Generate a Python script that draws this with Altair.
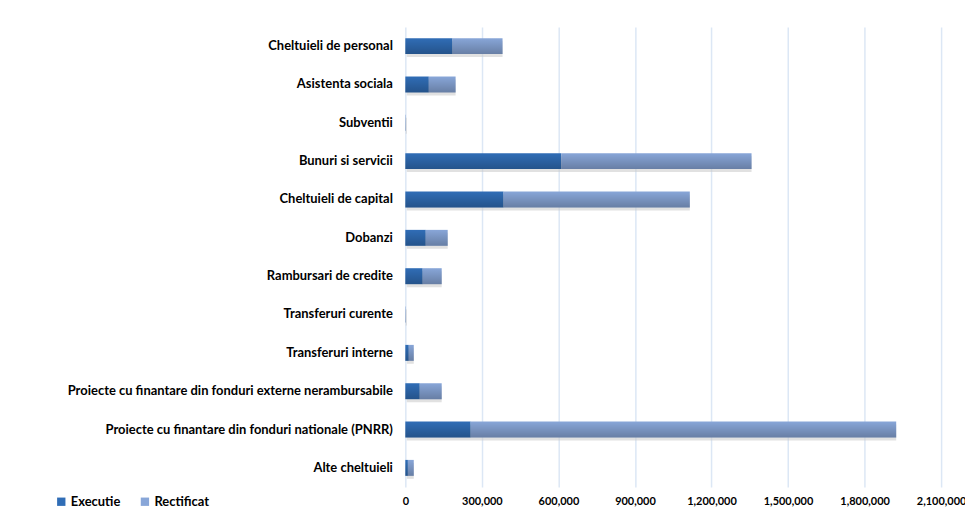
import altair as alt
import pandas as pd

categories = [
    "Cheltuieli de personal",
    "Asistenta sociala",
    "Subventii",
    "Bunuri si servicii",
    "Cheltuieli de capital",
    "Dobanzi",
    "Rambursari de credite",
    "Transferuri curente",
    "Transferuri interne",
    "Proiecte cu finantare din fonduri externe nerambursabile",
    "Proiecte cu finantare din fonduri nationale (PNRR)",
    "Alte cheltuieli",
]
executie = [185000, 92000, 500, 611000, 385000, 80000, 68000, 500, 13500, 56500, 256000, 10000]
rectificat = [196000, 105000, 1000, 746000, 730000, 86000, 74500, 1000, 19500, 86000, 1668000, 23000]
series_names = ["Executie", "Rectificat"]
series_colors = ["#306db6", "#88a6d8"]
x_ticks = [0, 300000, 600000, 900000, 1200000, 1500000, 1800000, 2100000]

rows = []
for c, e, r in zip(categories, executie, rectificat):
    rows.append({"cat": c, "series": "Executie", "start": 0, "end": e})
    rows.append({"cat": c, "series": "Rectificat", "start": e, "end": e + r})
df = pd.DataFrame(rows)
tot = pd.DataFrame({"cat": categories, "start": [0] * len(categories),
                    "end": [e + r for e, r in zip(executie, rectificat)]})

FONT = "Lato"
xscale = alt.Scale(domain=[0, 2100000], nice=False)
yenc = alt.Y("cat:N", sort=categories, title=None,
             scale=alt.Scale(paddingInner=0.58, paddingOuter=0.29),
             axis=alt.Axis(labelFont=FONT, labelFontWeight="bold", labelFontSize=13,
                           labelColor="#000000", labelLimit=500, labelPadding=13,
                           ticks=False, domain=False))

shadow = alt.Chart(tot).mark_bar(color="#c8c8c8", opacity=0.55, yOffset=3, xOffset=1.5).encode(
    x=alt.X("start:Q", scale=xscale),
    x2="end:Q",
    y=yenc,
)

bars = alt.Chart(df).mark_bar().encode(
    x=alt.X("start:Q", scale=xscale, title=None,
            axis=alt.Axis(values=x_ticks, format=",d", labelFont=FONT, labelFontWeight="bold",
                          labelFontSize=11, labelColor="#000000", ticks=False, domain=False,
                          labelOverlap=False, labelFlush=False, labelBound=False,
                          grid=True, gridColor="#dce7f5", gridWidth=1.5, labelPadding=9)),
    x2="end:Q",
    y=yenc,
    color=alt.Color("series:N", scale=alt.Scale(domain=series_names, range=series_colors),
                    legend=alt.Legend(title=None, orient="none", direction="horizontal",
                                      legendX=-352, legendY=470, symbolType="square",
                                      symbolSize=70, symbolStrokeWidth=0, labelFont=FONT,
                                      labelFontWeight="bold", labelFontSize=13, labelLimit=300,
                                      labelColor="#000000", columnPadding=18, labelOffset=3)),
)

grad = alt.Gradient(
    gradient="linear",
    stops=[alt.GradientStop(color="rgba(0,0,0,0)", offset=0),
           alt.GradientStop(color="rgba(0,0,0,0.24)", offset=1)],
    x1=0, x2=0, y1=0, y2=1,
)
overlay = alt.Chart(tot).mark_bar(fill=grad).encode(
    x=alt.X("start:Q", scale=xscale),
    x2="end:Q",
    y=yenc,
)

chart = alt.layer(shadow, bars, overlay).properties(
    width=538, height=462,
    padding={"left": 399, "top": 18, "right": 24, "bottom": 20},
    autosize=alt.AutoSizeParams(type="none"),
).configure_view(stroke=None).configure_bar(size=16)

chart.save("out.html", embed_options={"renderer": "svg", "actions": False})
